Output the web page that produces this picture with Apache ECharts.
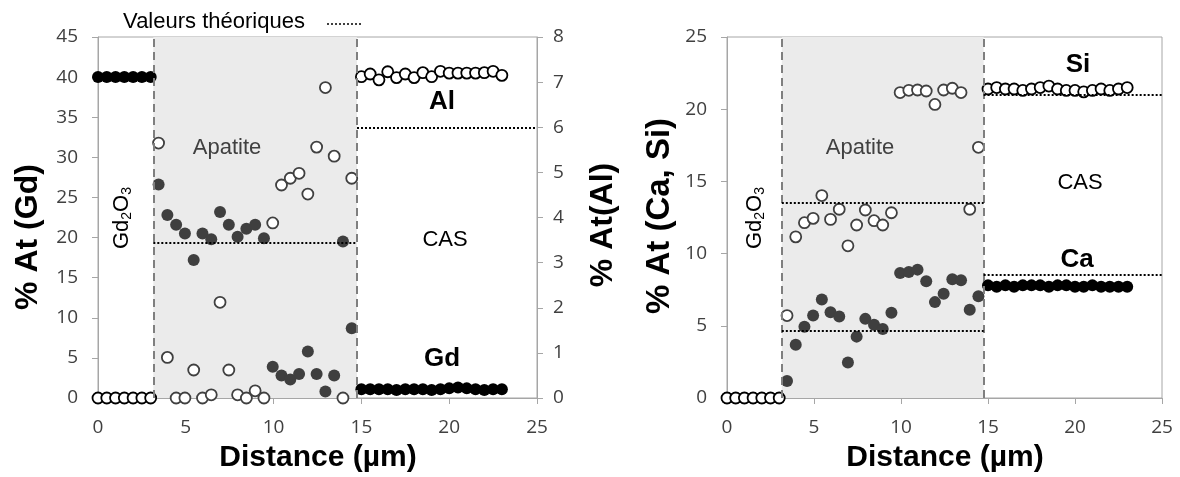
<!DOCTYPE html>
<html>
<head>
<meta charset="utf-8">
<script src="https://cdn.jsdelivr.net/npm/echarts@6/dist/echarts.min.js"></script>
<style>
html,body{margin:0;padding:0;background:#fff;}
#chart{width:1180px;height:477px;}
</style>
</head>
<body>
<div id="chart"></div>
<script>
// ---------- data ----------
const xOxide = [0, 0.5, 1, 1.5, 2, 2.5, 3];
const xApatite = [3.45, 3.95, 4.45, 4.95, 5.45, 5.95, 6.45, 6.95, 7.45, 7.95, 8.45, 8.95, 9.45, 9.95, 10.45, 10.95, 11.45, 11.95, 12.45, 12.95, 13.45, 13.95, 14.45];
const xCAS = [15, 15.5, 16, 16.5, 17, 17.5, 18, 18.5, 19, 19.5, 20, 20.5, 21, 21.5, 22, 22.5, 23];

// left panel: Gd (left axis), Al (right axis)
const gdOxide = [40, 40, 40, 40, 40, 40, 40];
const alOxide = [0, 0, 0, 0, 0, 0, 0];
const gdApatite = [26.6, 22.8, 21.6, 20.5, 17.2, 20.5, 19.8, 23.2, 21.6, 20.1, 21.1, 21.6, 19.9, 3.9, 2.8, 2.3, 3.0, 5.8, 3.0, 0.8, 2.8, 19.5, 8.7];
const alApatite = [5.65, 0.90, 0, 0, 0.62, 0, 0.07, 2.12, 0.62, 0.07, 0, 0.16, 0, 3.88, 4.72, 4.87, 4.98, 4.52, 5.56, 6.88, 5.36, 0, 4.87];
const gdCAS = [1.1, 1.1, 1.1, 1.1, 1.0, 1.1, 1.1, 1.1, 1.0, 1.1, 1.2, 1.3, 1.2, 1.1, 1.0, 1.1, 1.1];
const alCAS = [7.12, 7.18, 7.05, 7.23, 7.10, 7.18, 7.10, 7.21, 7.12, 7.24, 7.20, 7.20, 7.20, 7.20, 7.21, 7.24, 7.15];

// right panel: Ca, Si
const siOxide = [0, 0, 0, 0, 0, 0, 0];
const caOxide = [0, 0, 0, 0, 0, 0, 0];
const siApatite = [5.71, 11.16, 12.14, 12.44, 14.02, 12.37, 13.07, 10.54, 11.98, 13.02, 12.28, 11.98, 12.83, 21.15, 21.31, 21.33, 21.26, 20.33, 21.33, 21.45, 21.15, 13.07, 17.36];
const caApatite = [1.18, 3.69, 4.94, 5.71, 6.82, 5.94, 5.64, 2.46, 4.25, 5.48, 5.08, 4.78, 5.90, 8.66, 8.73, 8.89, 8.08, 6.64, 7.22, 8.22, 8.15, 6.11, 7.05];
const siCAS = [21.4, 21.5, 21.4, 21.4, 21.3, 21.4, 21.5, 21.6, 21.4, 21.3, 21.3, 21.2, 21.3, 21.4, 21.3, 21.4, 21.5];
const caCAS = [7.8, 7.7, 7.8, 7.7, 7.8, 7.8, 7.8, 7.7, 7.8, 7.8, 7.7, 7.7, 7.8, 7.7, 7.7, 7.7, 7.7];

// zones (interfaces) and theoretical values
const interfaces = [3.15, 14.75];
const xEnd = 25;
const theoGdApatite = 19.3;
const theoAlCAS = 6.0;
const theoSiApatite = 13.5;
const theoCaApatite = 4.65;
const theoSiCAS = 21.0;
const theoCaCAS = 8.55;

// tick settings
const xTicks = {min: 0, max: 25, interval: 5};
const gdTicks = {min: 0, max: 45, interval: 5};
const alTicks = {min: 0, max: 8, interval: 1};
const casiTicks = {min: 0, max: 25, interval: 5};

// ---------- chart ----------
const zip = (xs, ys) => xs.map((x, i) => [x, ys[i]]);
const AXIS = '#a6a6a6';
const TXT = '#404040';
const tickFont = {color: TXT, fontFamily: 'Open Sans', fontSize: 19};

function filled(x, y, xi, yi, color) {
  return {type: 'scatter', xAxisIndex: xi, yAxisIndex: yi, data: zip(x, y), symbol: 'circle', symbolSize: 12,
    itemStyle: {color: color, opacity: 1}, silent: true, z: 3};
}
function hollow(x, y, xi, yi, color, bw) {
  return {type: 'scatter', xAxisIndex: xi, yAxisIndex: yi, data: zip(x, y), symbol: 'circle', symbolSize: 11,
    itemStyle: {color: '#ffffff', borderColor: color, borderWidth: bw, opacity: 1}, silent: true, z: 4};
}
function zones(xi, yi) {
  return {type: 'scatter', xAxisIndex: xi, yAxisIndex: yi, data: [], silent: true, z: 1,
    markArea: {silent: true, itemStyle: {color: '#ebebeb'}, label: {show: false},
      data: [[{xAxis: interfaces[0]}, {xAxis: interfaces[1]}]]},
    markLine: {silent: true, symbol: 'none', label: {show: false}, animation: false,
      lineStyle: {color: '#7f7f7f', type: [8, 5], width: 2},
      data: [{xAxis: interfaces[0]}, {xAxis: interfaces[1]}]}};
}
function theo(xi, yi, segs) {
  return {type: 'scatter', xAxisIndex: xi, yAxisIndex: yi, data: [], silent: true, z: 2,
    markLine: {silent: true, symbol: 'none', label: {show: false}, animation: false,
      lineStyle: {color: '#000', type: [2, 2], width: 2},
      data: segs.map(s => [{coord: [s[0], s[2]]}, {coord: [s[1], s[2]]}])}};
}
function xAxis(gi) {
  return {type: 'value', gridIndex: gi, min: xTicks.min, max: xTicks.max, interval: xTicks.interval,
    splitLine: {show: false}, axisLine: {show: true, onZero: false, lineStyle: {color: AXIS, width: 1}},
    axisTick: {show: true, length: 6, lineStyle: {color: AXIS}}, axisLabel: Object.assign({margin: 20}, tickFont)};
}
function yAxis(gi, t, pos, margin) {
  return {type: 'value', gridIndex: gi, position: pos, min: t.min, max: t.max, interval: t.interval,
    splitLine: {show: false}, axisLine: {show: true, lineStyle: {color: AXIS, width: 1}},
    axisTick: {show: true, length: 6, lineStyle: {color: AXIS}}, axisLabel: Object.assign({margin: margin}, tickFont)};
}
function txt(x, y, text, size, bold, color, rot) {
  return {type: 'text', x: x, y: y, rotation: rot || 0, z: 10,
    style: {text: text, fontFamily: 'Liberation Sans', fontSize: size, fontWeight: bold ? 'bold' : 'normal',
      fill: color, align: 'center', verticalAlign: 'middle'}};
}
function gd2o3(x, y) {
  return {type: 'text', x: x, y: y, rotation: Math.PI / 2, z: 10,
    style: {text: 'Gd{s|2}O{s|3}', fontFamily: 'Liberation Sans', fontSize: 22, fill: '#000', align: 'center', verticalAlign: 'middle',
      rich: {s: {fontFamily: 'Liberation Sans', fontSize: 14, fill: '#000', verticalAlign: 'bottom', padding: [10, 0, 0, 0]}}}};
}

const option = {
  animation: false,
  backgroundColor: '#fff',
  grid: [
    {left: 98, right: 643, top: 37, bottom: 79, show: true, borderColor: AXIS, borderWidth: 1, backgroundColor: 'transparent'},
    {left: 727, right: 18, top: 37, bottom: 79, show: true, borderColor: AXIS, borderWidth: 1, backgroundColor: 'transparent'}
  ],
  xAxis: [xAxis(0), xAxis(1)],
  yAxis: [yAxis(0, gdTicks, 'left', 20), yAxis(0, alTicks, 'right', 16), yAxis(1, casiTicks, 'left', 20)],
  series: [
    zones(0, 0),
    theo(0, 0, [[interfaces[0], interfaces[1], theoGdApatite]]),
    theo(0, 1, [[interfaces[1], xEnd, theoAlCAS]]),
    filled(xOxide, gdOxide, 0, 0, '#000'),
    filled(xApatite, gdApatite, 0, 0, '#3f3f3f'),
    filled(xCAS, gdCAS, 0, 0, '#000'),
    hollow(xOxide, alOxide, 0, 1, '#000', 1.8),
    hollow(xApatite, alApatite, 0, 1, '#404040', 1.8),
    hollow(xCAS, alCAS, 0, 1, '#000', 1.8),

    zones(1, 2),
    theo(1, 2, [[interfaces[0], interfaces[1], theoSiApatite], [interfaces[0], interfaces[1], theoCaApatite],
                [interfaces[1], xEnd, theoSiCAS], [interfaces[1], xEnd, theoCaCAS]]),
    filled(xOxide, caOxide, 1, 2, '#000'),
    filled(xApatite, caApatite, 1, 2, '#3f3f3f'),
    filled(xCAS, caCAS, 1, 2, '#000'),
    hollow(xOxide, siOxide, 1, 2, '#000', 1.8),
    hollow(xApatite, siApatite, 1, 2, '#404040', 1.8),
    hollow(xCAS, siCAS, 1, 2, '#000', 1.8)
  ],
  graphic: [
    txt(214, 22, 'Valeurs théoriques', 22, false, '#000'),
    {type: 'line', z: 10, shape: {x1: 327, y1: 24, x2: 363, y2: 24}, style: {stroke: '#000', lineWidth: 1.5, lineDash: [2, 2]}},
    txt(28, 237, '% At (Gd)', 32, true, '#000', Math.PI / 2),
    txt(603, 225, '% At(Al)', 32, true, '#000', Math.PI / 2),
    txt(660, 216, '% At (Ca, Si)', 33, true, '#000', Math.PI / 2),
    txt(318, 458, 'Distance (µm)', 30, true, '#000'),
    txt(945, 458, 'Distance (µm)', 30, true, '#000'),
    txt(227, 148, 'Apatite', 22, false, TXT),
    txt(860, 148, 'Apatite', 22, false, TXT),
    txt(445, 240, 'CAS', 22, false, '#000'),
    txt(1080, 183, 'CAS', 22, false, '#000'),
    txt(442, 102, 'Al', 26, true, '#000'),
    txt(442, 359, 'Gd', 26, true, '#000'),
    txt(1078, 65, 'Si', 26, true, '#000'),
    txt(1077, 260, 'Ca', 26, true, '#000'),
    gd2o3(122, 218),
    gd2o3(755, 218)
  ]
};

const chart = echarts.init(document.getElementById('chart'), null, {renderer: 'canvas'});
chart.setOption(option);
</script>
</body>
</html>
